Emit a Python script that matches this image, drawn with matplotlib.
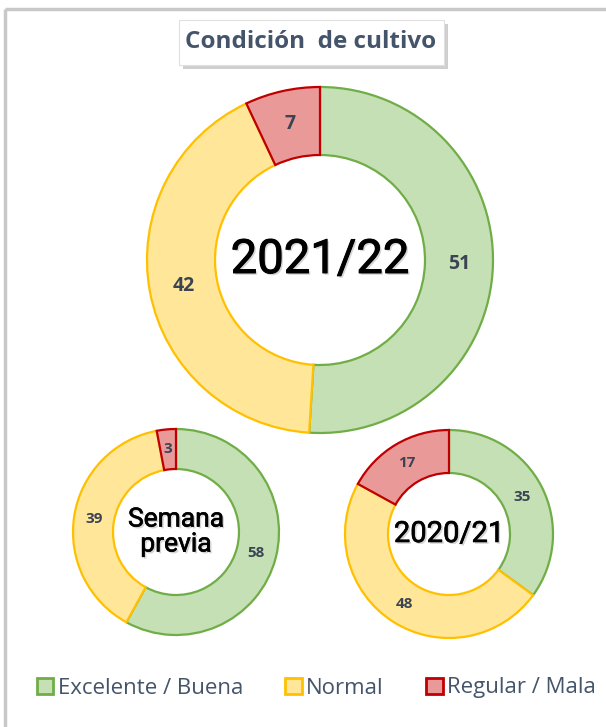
import matplotlib.pyplot as plt
import matplotlib.patheffects as pe
import numpy as np
from matplotlib.patches import Patch, Rectangle

categories = ["Excelente / Buena", "Normal", "Regular / Mala"]
fills = ["#C5E0B4", "#FFE699", "#EA9999"]
edges = ["#70AD47", "#FFC000", "#C00000"]

campaign_2122 = [51, 42, 7]
semana_previa = [58, 39, 3]
campaign_2021 = [35, 48, 17]

W, H = 606, 727
fig = plt.figure(figsize=(W / 100, H / 100), dpi=100)
ax = fig.add_axes([0, 0, 1, 1])

label_color = "#3B4453"


def center_effects(lw):
    return [pe.SimplePatchShadow(offset=(1.3, -1.3), shadow_rgbFace="#888888", alpha=0.35),
            pe.withStroke(linewidth=lw, foreground="black")]


def donut(values, cx, cy, r, inner, fs, center_text, center_fs, stroke):
    # cy given in pixel rows from top
    y = H - cy
    wedges, _ = ax.pie(
        values, center=(cx, y), radius=r, startangle=90, counterclock=False,
        colors=fills, wedgeprops=dict(width=r - inner, linewidth=1.6),
    )
    for w, ec in zip(wedges, edges):
        w.set_edgecolor(ec)
    wedges[2].set_zorder(3)
    total = sum(values)
    acc = 0
    for v in values:
        mid = (acc + v / 2) / total * 2 * np.pi
        acc += v
        rm = (r + inner) / 2
        ax.text(cx + rm * np.sin(mid), y + rm * np.cos(mid), str(v), ha="center", va="center",
                fontsize=fs, fontweight="bold", color=label_color, family="Open Sans", zorder=5)
    ax.text(cx, y, center_text, ha="center", va="center", fontsize=center_fs, color="black",
            family="Roboto", fontweight="normal", linespacing=1.05,
            path_effects=center_effects(stroke), zorder=5)


donut(campaign_2122, 320, 260, 173, 105, 14, "2021/22", 34, 0.7)
donut(semana_previa, 176, 532, 103, 63, 11, "Semana\nprevia", 19, 0.45)
donut(campaign_2021, 449, 534, 104, 61, 11, "2020/21", 21, 0.45)

# title box with shadow
ax.add_patch(Rectangle((183, H - 69), 265, 45, facecolor="#BBBBBB", edgecolor="none", alpha=0.7, zorder=1))
ax.add_patch(Rectangle((179, H - 65), 265, 45, facecolor="white", edgecolor="#E0E0E0", linewidth=0.8, zorder=2))
ax.text(311, H - 42, "Condición  de cultivo", ha="center", va="center", fontsize=17.5, fontweight="bold",
        color="#44546A", family="Open Sans", zorder=3)

# frame lines (top and left)
ax.plot([5, W], [H - 9, H - 9], color="#C8C8C8", linewidth=2.5, solid_capstyle="butt")
ax.plot([5, 5], [H - 9, 0], color="#C8C8C8", linewidth=2.5, solid_capstyle="butt")

ax.set_xlim(0, W)
ax.set_ylim(0, H)
ax.set_aspect("equal")
ax.axis("off")

handles = [Patch(facecolor=f, edgecolor=e, linewidth=2) for f, e in zip(fills, edges)]
fig.legend(handles, categories, loc="center", bbox_to_anchor=(0.522, 1 - 688 / H), ncol=3, frameon=False,
           prop=dict(family="Open Sans", size=16), labelcolor="#44546A", handlelength=0.75, handleheight=0.75,
           handletextpad=0.2, columnspacing=1.9)

fig.savefig("out.png", dpi=100)
